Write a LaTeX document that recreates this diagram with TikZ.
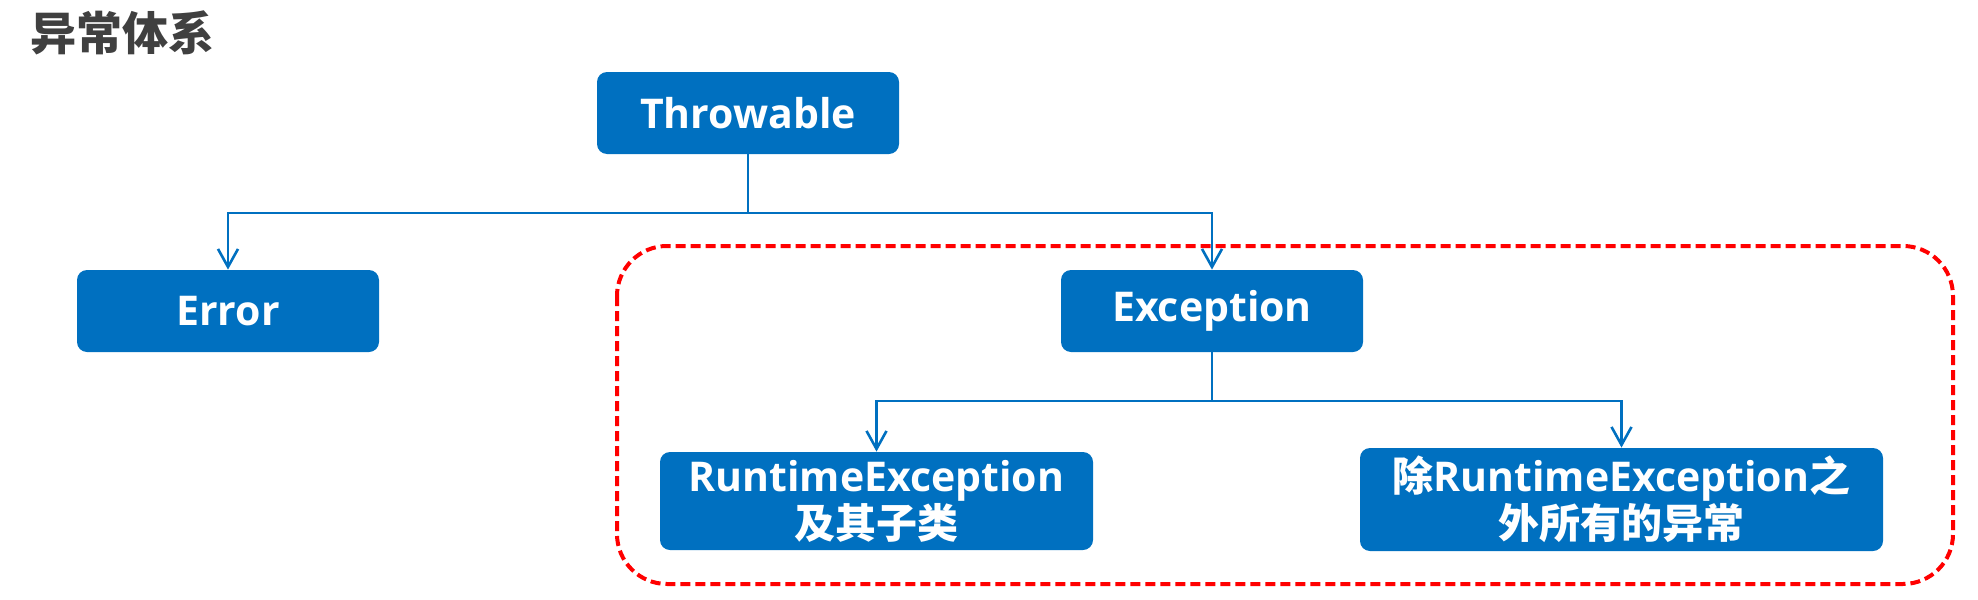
\documentclass[tikz,border=0pt]{standalone}
\usepackage{fontspec}
\setmainfont{Open Sans}
\newfontfamily\cjk{Noto Sans CJK SC}
\usetikzlibrary{arrows.meta}

\definecolor{boxblue}{HTML}{0070C0}
\definecolor{titlegray}{HTML}{404040}

\begin{document}
\begin{tikzpicture}[x=0.5pt,y=-0.5pt,
  cls/.style={fill=boxblue, text=white, rounded corners=5pt, inner sep=0pt,
    align=center, font=\fontsize{20.5}{22}\selectfont\bfseries},
  link/.style={draw=boxblue, line width=1.3pt, -{Straight Barb[length=9pt, width=10pt]}}]
\useasboundingbox (0,0) rectangle (1978,600);
% group of exceptions
\draw[red, line width=2pt, dash pattern=on 5pt off 2.5pt, rounded corners=25pt] (617,246) rectangle (1953,584);
\node[anchor=west, inner sep=0pt, text=titlegray, font=\cjk\fontsize{23}{25}\selectfont\bfseries] (title) at (30,33) {异常体系};
\node[cls, minimum width=151pt, minimum height=41pt] (throw) at (748,113) {Throwable};
\node[cls, minimum width=151pt, minimum height=41pt] (error) at (228,311) {Error};
\node[cls, minimum width=151pt, minimum height=41pt] (exc) at (1212,311) {Exception};
\node[cls, minimum width=216.5pt, minimum height=49pt] (rte) at (876.5,501) {RuntimeException\\{\cjk 及其子类}};
\node[cls, minimum width=261.5pt, minimum height=51.5pt] (other) at (1621.5,499.5) {{\cjk 除}RuntimeException{\cjk 之}\\{\cjk 外所有的异常}};
\coordinate (tsplit) at (748,213);
\coordinate (esplit) at (1212,401);
\draw[link] (throw.south) -- (tsplit) -| (error.north);
\draw[link] (tsplit) -| (exc.north);
\draw[link] (exc.south) -- (esplit) -| (rte.north);
\draw[link] (esplit) -| (other.north);
\end{tikzpicture}
\end{document}
